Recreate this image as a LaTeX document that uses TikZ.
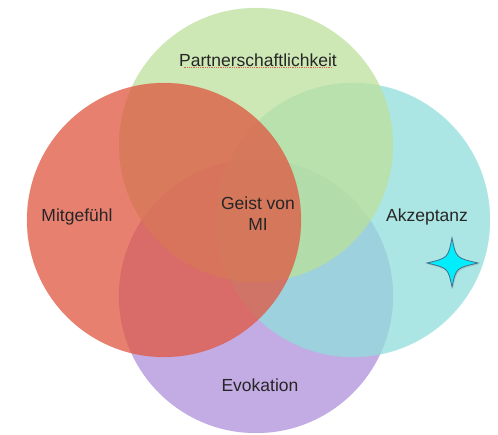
\documentclass[tikz,border=0pt]{standalone}
\usepackage{fontspec}
\setmainfont{Liberation Sans}
\usepackage{tikz}
\usetikzlibrary{shapes}
\usetikzlibrary{shadows}
\usetikzlibrary{positioning}

\definecolor{partnergreen}{RGB}{188,224,155}
\definecolor{mitred}{RGB}{224,86,64}
\definecolor{akzcyan}{RGB}{144,222,219}
\definecolor{evoviolet}{RGB}{175,144,219}
\definecolor{starcyan}{RGB}{0,238,252}
\definecolor{staredge}{RGB}{70,110,140}
\definecolor{spellred}{RGB}{235,40,40}

\tikzset{
	ring/.style = {circle, minimum size=274pt, inner sep=0pt, fill opacity=0.75, draw opacity=0.35},
	label/.style = {font=\fontsize{17.5}{21}\selectfont, text=black!85, align=center}
}

\begin{document}
\begin{tikzpicture}[x = 1pt, y = -1pt]
				\useasboundingbox (0, 0) rectangle (498, 434);
				
				% Circles
				\node[ring, fill=evoviolet, draw=evoviolet] (evo) at (256, 296) {};
				\node[ring, fill=akzcyan, draw=akzcyan] (akz) at (353, 220) {};
				\node[ring, fill=partnergreen, draw=partnergreen] (partner) at (256, 145) {};
				\node[ring, fill=mitred, draw=mitred] (mit) at (164, 220) {};
				
				% Labels
				\node[label] (partnertext) at (258, 60) {Partnerschaftlichkeit};
				\node[label] (mittext) at (77, 217) {Mitgefühl};
				\node[label] (akztext) at (427, 217) {Akzeptanz};
				\node[label] (evotext) at (260, 385) {Evokation};
				\node[label] (geist) at (258, 214) {Geist von\\MI};
				
				% Spelling mark
				\coordinate (u0) at ([xshift=8pt, yshift=3pt]partnertext.south west);
				\coordinate (u2) at ([xshift=-8pt, yshift=3pt]partnertext.south east);
				\draw[spellred, opacity=0.7, dash pattern=on 0.8pt off 1pt, line width=0.5pt] (u0) -- (u2);
				
				% Star
				\coordinate (star) at (452, 263);
				\draw[fill=starcyan, draw=staredge, line width=0.8pt, drop shadow={opacity=0.3, shadow xshift=1pt, shadow yshift=-1.5pt}]
					(452, 238) .. controls (456, 258) .. (478, 263)
					.. controls (456, 268) .. (452, 287)
					.. controls (448, 268) .. (427, 263)
					.. controls (448, 258) .. cycle;
			\end{tikzpicture}
\end{document}
